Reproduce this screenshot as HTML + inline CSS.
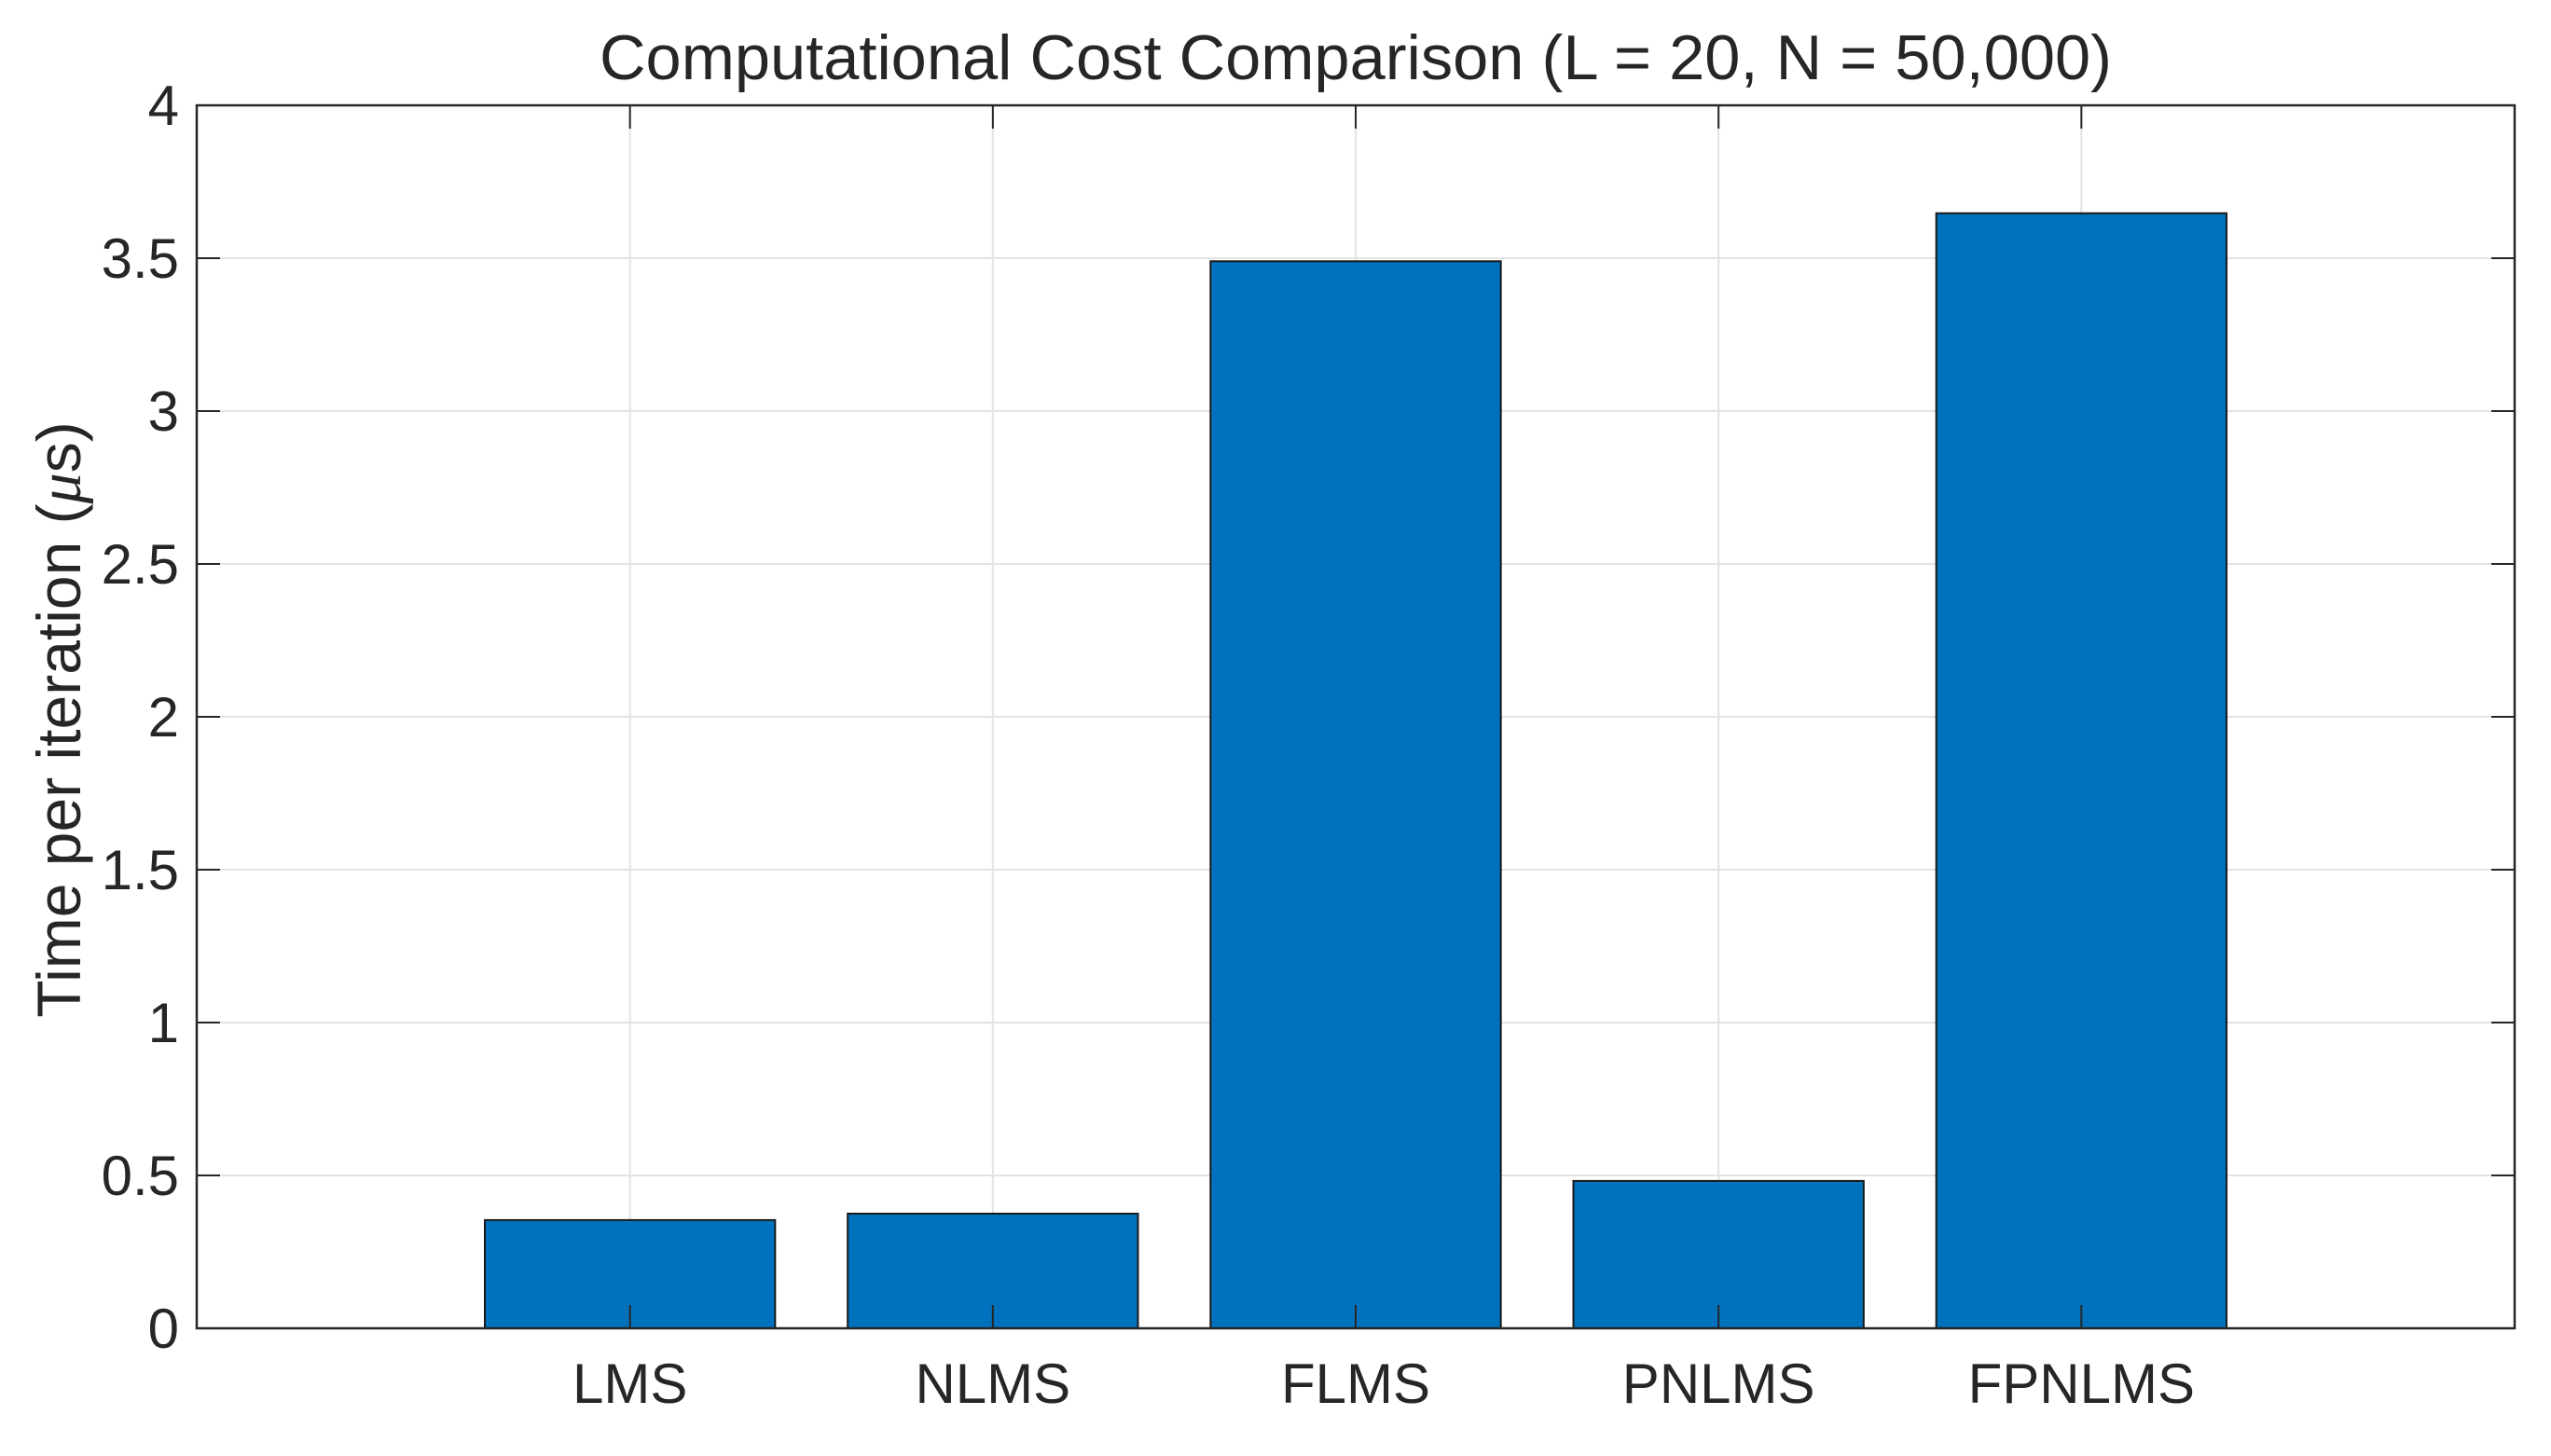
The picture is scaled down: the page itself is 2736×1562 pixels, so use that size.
<!DOCTYPE html>
<html><head><meta charset="utf-8"><style>
html,body{margin:0;padding:0;background:#fff;}
svg text{font-family:"Liberation Sans",Arial,sans-serif;fill:#262626;}
</style></head><body>
<svg id="chart" width="2736" height="1557" viewBox="0 0 2736 1557" xmlns="http://www.w3.org/2000/svg">
<rect x="0" y="0" width="2736" height="1557" fill="#fff"/>
<g id="grid"></g>
<g id="bars"></g>
<g id="axes"></g>
<text x="1454" y="85" font-size="68" text-anchor="middle" textLength="1622" lengthAdjust="spacingAndGlyphs">Computational Cost Comparison (L = 20, N = 50,000)</text>
<text transform="translate(86,772) rotate(-90)" font-size="66" text-anchor="middle">Time per iteration (<tspan font-family="Liberation Serif" font-style="italic">μ</tspan>s)</text>
</svg>
<script>
const categories = ["LMS","NLMS","FLMS","PNLMS","FPNLMS"];
const values = [0.354, 0.375, 3.49, 0.482, 3.647];
const yTicks = [0,0.5,1,1.5,2,2.5,3,3.5,4];
const yTickLabels = ["0","0.5","1","1.5","2","2.5","3","3.5","4"];

const NS="http://www.w3.org/2000/svg";
const L=211,R=2697,T=113,B=1425;
const xMin=-0.194,xMax=6.194,yMin=0,yMax=4;
function xs(v){return L+(v-xMin)/(xMax-xMin)*(R-L);}
function ys(v){return B-(v-yMin)/(yMax-yMin)*(B-T);}
function mk(tag,attrs,parent){const e=document.createElementNS(NS,tag);for(const k in attrs)e.setAttribute(k,attrs[k]);parent.appendChild(e);return e;}
const grid=document.getElementById('grid'),bars=document.getElementById('bars'),axes=document.getElementById('axes');

yTicks.forEach((t,i)=>{
  const y=ys(t);
  const g=mk('line',{x1:L,x2:R,y1:y,y2:y,stroke:'#e3e3e3','stroke-width':2},grid);
  
  
  const tk1=mk('line',{x1:L,x2:L+25,y1:y,y2:y,stroke:'#262626','stroke-width':2},axes);
  
  
  const tk2=mk('line',{x1:R-25,x2:R,y1:y,y2:y,stroke:'#262626','stroke-width':2},axes);
  
  
  const lb=mk('text',{x:192,y:y+21,'font-size':60,'text-anchor':'end'},axes);
  lb.textContent=yTickLabels[i];
  
  
});
categories.forEach((c,i)=>{
  const x=xs(i+1);
  const g=mk('line',{x1:x,x2:x,y1:T,y2:B,stroke:'#e3e3e3','stroke-width':2},grid);
  
  
  const bw=xs(0.8)-xs(0);
  const b=mk('rect',{x:x-bw/2,y:ys(values[i]),width:bw,height:ys(0)-ys(values[i]),fill:'#0072BD',stroke:'#1a1a1a','stroke-width':2},bars);
  
  
  const tk=mk('line',{x1:x,x2:x,y1:B-25,y2:B,stroke:'#262626','stroke-width':2},axes);
  
  
  const tk2=mk('line',{x1:x,x2:x,y1:T,y2:T+25,stroke:'#262626','stroke-width':2},axes);
  
  
  const lb=mk('text',{x:x,y:1505,'font-size':60,'text-anchor':'middle'},axes);
  lb.textContent=c;
  
  
});
const box=mk('rect',{x:L,y:T,width:R-L,height:B-T,fill:'none',stroke:'#262626','stroke-width':2.5},axes);


</script>
</body></html>
